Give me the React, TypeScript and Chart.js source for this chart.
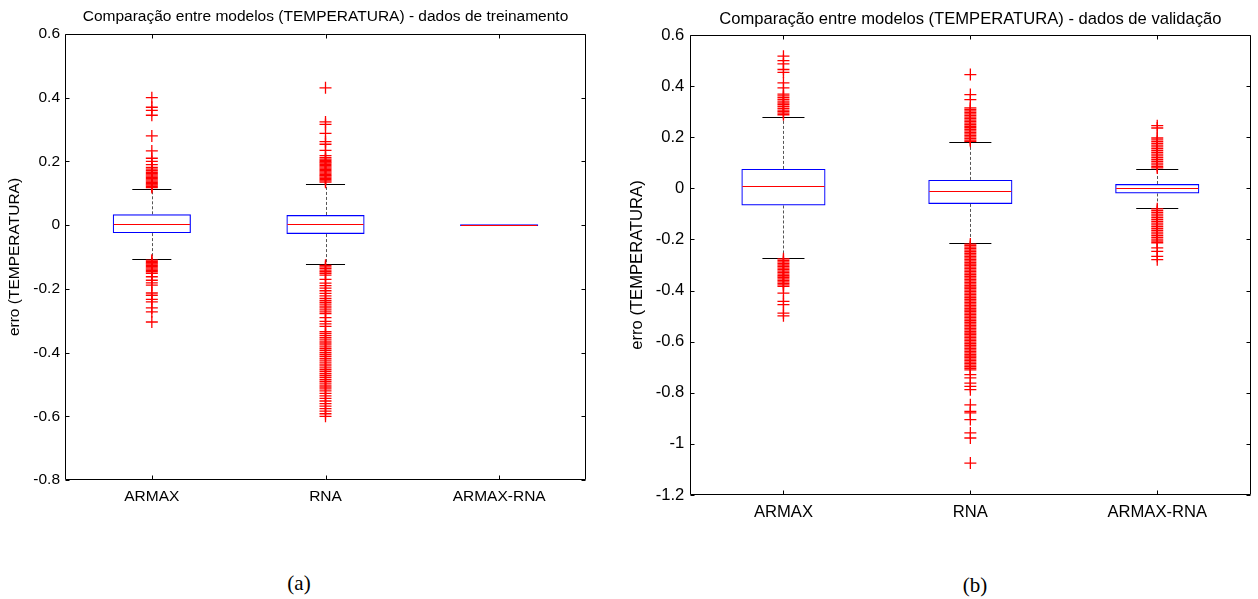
import React, { useEffect, useRef } from "react";
import { Chart, registerables } from "chart.js";

Chart.register(...registerables);

// ---------- data ----------
const categories = ["ARMAX", "RNA", "ARMAX-RNA"];

// (a) training data
const trainTitle = "Comparação entre modelos (TEMPERATURA) - dados de treinamento";
const trainQ1 = [-0.025, -0.028, -0.003];
const trainMedian = [0.004, 0.004, 0.0];
const trainQ3 = [0.034, 0.032, 0.003];
const trainWhiskerLow = [-0.107, -0.122, -0.003];
const trainWhiskerHigh = [0.115, 0.13, 0.003];
const trainOutArmax = [
  0.4, 0.37, 0.36, 0.345, 0.28, 0.233, 0.21, 0.2, 0.19, 0.181, 0.176, 0.171, 0.166, 0.162, 0.158,
  0.154, 0.15, 0.146, 0.142, 0.138, 0.134, 0.13, 0.126, 0.122, 0.118,
  -0.11, -0.114, -0.118, -0.122, -0.126, -0.13, -0.134, -0.138, -0.142, -0.146, -0.151, -0.162,
  -0.173, -0.181, -0.188, -0.213, -0.22, -0.233, -0.241, -0.26, -0.272, -0.304,
];
const trainOutRna = [
  0.431, 0.324, 0.316, 0.288, 0.262, 0.254, 0.235, 0.218, 0.212, 0.207, 0.203, 0.199, 0.195, 0.191,
  0.187, 0.183, 0.179, 0.175, 0.171, 0.167, 0.163, 0.159, 0.155, 0.151, 0.147, 0.143, 0.139, 0.135,
  -0.126, -0.131, -0.136, -0.141, -0.146, -0.151, -0.157, -0.17, -0.182, -0.19, -0.198, -0.206,
  -0.214, -0.222, -0.23, -0.236, -0.242, -0.248, -0.254, -0.26, -0.266, -0.272, -0.278, -0.29,
  -0.302, -0.31, -0.318, -0.334, -0.34, -0.346, -0.352, -0.358, -0.364, -0.37, -0.376, -0.382,
  -0.388, -0.394, -0.4, -0.406, -0.412, -0.418, -0.424, -0.43, -0.436, -0.442, -0.448, -0.454,
  -0.46, -0.466, -0.472, -0.478, -0.484, -0.49, -0.496, -0.502, -0.508, -0.514, -0.52, -0.528,
  -0.536, -0.544, -0.552, -0.56, -0.568, -0.576, -0.584, -0.592, -0.6,
];
const trainOutHybrid: number[] = [];
const trainYMin = -0.8;
const trainYMax = 0.6;

// (b) validation data
const validTitle = "Comparação entre modelos (TEMPERATURA) - dados de validação";
const validQ1 = [-0.067, -0.061, -0.02];
const validMedian = [0.008, -0.009, 0.003];
const validQ3 = [0.076, 0.033, 0.017];
const validWhiskerLow = [-0.271, -0.213, -0.077];
const validWhiskerHigh = [0.281, 0.18, 0.076];
const validOutArmax = [
  0.517, 0.5, 0.487, 0.465, 0.454, 0.413, 0.393, 0.369, 0.362, 0.355, 0.348, 0.341, 0.334, 0.327,
  0.32, 0.313, 0.306, 0.3, 0.294, 0.288,
  -0.276, -0.282, -0.288, -0.294, -0.3, -0.306, -0.312, -0.318, -0.324, -0.33, -0.336, -0.342,
  -0.348, -0.354, -0.36, -0.366, -0.372, -0.378, -0.384, -0.41, -0.442, -0.455, -0.488, -0.499,
];
const validOutRna = [
  0.445, 0.367, 0.347, 0.315, 0.309, 0.303, 0.297, 0.291, 0.285, 0.279, 0.273, 0.267, 0.261, 0.255,
  0.249, 0.243, 0.237, 0.231, 0.225, 0.219, 0.213, 0.207, 0.201, 0.195, 0.189, 0.184,
  -0.218, -0.224, -0.23, -0.236, -0.242, -0.248, -0.254, -0.26, -0.266, -0.272, -0.278, -0.284,
  -0.29, -0.296, -0.302, -0.308, -0.314, -0.32, -0.326, -0.332, -0.338, -0.344, -0.35, -0.356,
  -0.362, -0.368, -0.374, -0.38, -0.386, -0.392, -0.398, -0.404, -0.41, -0.416, -0.422, -0.428,
  -0.434, -0.44, -0.446, -0.452, -0.458, -0.464, -0.47, -0.476, -0.482, -0.488, -0.494, -0.5,
  -0.506, -0.512, -0.518, -0.524, -0.53, -0.536, -0.542, -0.548, -0.554, -0.56, -0.566, -0.572,
  -0.578, -0.584, -0.59, -0.596, -0.602, -0.608, -0.614, -0.62, -0.626, -0.632, -0.638, -0.644,
  -0.65, -0.656, -0.662, -0.668, -0.674, -0.68, -0.686, -0.692, -0.698, -0.704, -0.71,
  -0.729, -0.742, -0.762, -0.775, -0.788, -0.847, -0.873, -0.879, -0.905, -0.957, -0.977, -1.075,
];
const validOutHybrid = [
  0.245, 0.236, 0.197, 0.19, 0.183, 0.176, 0.169, 0.162, 0.155, 0.148, 0.141, 0.134, 0.127, 0.12,
  0.113, 0.106, 0.099, 0.092, 0.085, 0.08,
  -0.08, -0.087, -0.094, -0.101, -0.108, -0.115, -0.122, -0.129, -0.136, -0.143, -0.15, -0.157,
  -0.164, -0.171, -0.178, -0.185, -0.192, -0.199, -0.206, -0.213, -0.233, -0.247, -0.266, -0.279,
];
const validYMin = -1.2;
const validYMax = 0.6;

const yStep = 0.2;
const yAxisTitle = "erro (TEMPERATURA)";

// ---------- chart helpers ----------
type Stats = {
  q1: number[];
  median: number[];
  q3: number[];
  lo: number[];
  hi: number[];
  outliers: number[][];
};

const FONT = "'Liberation Sans', Arial, Helvetica, sans-serif";

function boxPlugin(stats: Stats) {
  const hline = (ctx: CanvasRenderingContext2D, x1: number, x2: number, y: number) => {
    const yy = Math.round(y) + 0.5;
    ctx.beginPath();
    ctx.moveTo(x1, yy);
    ctx.lineTo(x2, yy);
    ctx.stroke();
  };
  const vline = (ctx: CanvasRenderingContext2D, x: number, y1: number, y2: number) => {
    const xx = Math.round(x) + 0.5;
    ctx.beginPath();
    ctx.moveTo(xx, y1);
    ctx.lineTo(xx, y2);
    ctx.stroke();
  };
  return {
    id: "boxExtras",
    beforeDatasetsDraw(chart: any) {
      const { ctx, scales } = chart;
      const xs = scales.x;
      const ys = scales.y;
      const meta = chart.getDatasetMeta(0);
      ctx.save();
      ctx.lineWidth = 1;
      for (let i = 0; i < stats.q1.length; i++) {
        const bar = meta.data[i];
        const cx = xs.getPixelForValue(i);
        const half = bar.width / 2;
        const yq1 = ys.getPixelForValue(stats.q1[i]);
        const yq3 = ys.getPixelForValue(stats.q3[i]);
        const ylo = ys.getPixelForValue(stats.lo[i]);
        const yhi = ys.getPixelForValue(stats.hi[i]);
        ctx.strokeStyle = "#555";
        ctx.setLineDash([3, 2]);
        if (stats.hi[i] > stats.q3[i]) vline(ctx, cx, yq3, yhi);
        if (stats.lo[i] < stats.q1[i]) vline(ctx, cx, yq1, ylo);
        ctx.setLineDash([]);
        ctx.strokeStyle = "#000";
        if (stats.hi[i] > stats.q3[i]) hline(ctx, cx - half / 2, cx + half / 2, yhi);
        if (stats.lo[i] < stats.q1[i]) hline(ctx, cx - half / 2, cx + half / 2, ylo);
      }
      ctx.restore();
    },
    afterDatasetsDraw(chart: any) {
      const { ctx, scales, chartArea } = chart;
      const xs = scales.x;
      const ys = scales.y;
      const meta = chart.getDatasetMeta(0);
      ctx.save();
      ctx.lineWidth = 1;
      ctx.strokeStyle = "#ff0000";
      for (let i = 0; i < stats.median.length; i++) {
        const bar = meta.data[i];
        const cx = xs.getPixelForValue(i);
        const half = bar.width / 2;
        hline(ctx, cx - half + 1, cx + half - 1, ys.getPixelForValue(stats.median[i]));
      }
      // frame
      const l = Math.round(chartArea.left) + 0.5;
      const r = Math.round(chartArea.right) - 0.5;
      const t = Math.round(chartArea.top) + 0.5;
      const b = Math.round(chartArea.bottom) - 0.5;
      ctx.strokeStyle = "#000";
      ctx.beginPath();
      ctx.rect(l, t, r - l, b - t);
      ctx.stroke();
      // inward ticks
      const tl = 4;
      ys.ticks.forEach((tk: any) => {
        const py = Math.round(ys.getPixelForValue(tk.value)) + 0.5;
        ctx.beginPath();
        ctx.moveTo(l, py);
        ctx.lineTo(l + tl, py);
        ctx.moveTo(r, py);
        ctx.lineTo(r - tl, py);
        ctx.stroke();
      });
      for (let i = 0; i < stats.q1.length; i++) {
        const px = Math.round(xs.getPixelForValue(i)) + 0.5;
        ctx.beginPath();
        ctx.moveTo(px, b);
        ctx.lineTo(px, b - tl);
        ctx.moveTo(px, t);
        ctx.lineTo(px, t + tl);
        ctx.stroke();
      }
      ctx.restore();
    },
  };
}

type PanelProps = {
  title: string;
  stats: Stats;
  yMin: number;
  yMax: number;
  width: number;
  height: number;
  fontSize: number;
  yAxisWidth: number;
  xAxisHeight: number;
  padRight: number;
  titlePadTop: number;
  titlePadBottom: number;
  yTitlePad: number;
  xTickPad: number;
  yTickPad: number;
};

function BoxPanel(p: PanelProps) {
  const ref = useRef<HTMLCanvasElement | null>(null);
  useEffect(() => {
    if (!ref.current) return;
    const outData = categories.flatMap((c, i) => p.stats.outliers[i].map((v) => ({ x: c, y: v })));
    const chart = new Chart(ref.current, {
      type: "bar",
      data: {
        labels: categories,
        datasets: [
          {
            type: "bar",
            data: categories.map((_, i) => [p.stats.q1[i], p.stats.q3[i]]) as any,
            backgroundColor: "rgba(0,0,0,0)",
            borderColor: "#0000ff",
            borderWidth: 1.2,
            borderSkipped: false,
            barPercentage: 0.45,
            categoryPercentage: 1,
          } as any,
          {
            type: "line",
            data: outData as any,
            showLine: false,
            pointStyle: "cross",
            pointRadius: 6,
            pointBorderWidth: 1.3,
            borderColor: "#ff0000",
            backgroundColor: "#ff0000",
            pointBorderColor: "#ff0000",
          } as any,
        ],
      },
      options: {
        responsive: false,
        animation: false,
        events: [],
        layout: { padding: { left: 0, right: p.padRight, top: 0, bottom: 0 } },
        plugins: {
          legend: { display: false },
          tooltip: { enabled: false },
          title: {
            display: true,
            text: p.title,
            color: "#000",
            fullSize: false,
            font: { family: FONT, size: p.fontSize, weight: "normal", lineHeight: 1.2 },
            padding: { top: p.titlePadTop, bottom: p.titlePadBottom },
          },
        },
        scales: {
          x: {
            type: "category",
            offset: true,
            grid: { display: false, drawTicks: false },
            border: { display: false },
            ticks: {
              color: "#000",
              padding: p.xTickPad,
              maxRotation: 0,
              font: { family: FONT, size: p.fontSize },
            },
            afterFit: (s: any) => {
              s.height = p.xAxisHeight;
            },
          },
          y: {
            type: "linear",
            min: p.yMin,
            max: p.yMax,
            grid: { display: false, drawTicks: false },
            border: { display: false },
            ticks: {
              stepSize: yStep,
              color: "#000",
              padding: p.yTickPad,
              font: { family: FONT, size: p.fontSize },
              callback: (v: any) => String(Math.round(Number(v) * 10) / 10),
            },
            title: {
              display: true,
              text: yAxisTitle,
              color: "#000",
              font: { family: FONT, size: p.fontSize, lineHeight: 1.2 },
              padding: { top: p.yTitlePad, bottom: 0 },
            },
            afterFit: (s: any) => {
              s.width = p.yAxisWidth;
            },
          },
        },
      } as any,
      plugins: [boxPlugin(p.stats)],
    });
    return () => chart.destroy();
  }, []);
  return (
    <canvas
      ref={ref}
      width={p.width}
      height={p.height}
      style={{ width: p.width, height: p.height, display: "block" }}
    />
  );
}

const trainStats: Stats = {
  q1: trainQ1,
  median: trainMedian,
  q3: trainQ3,
  lo: trainWhiskerLow,
  hi: trainWhiskerHigh,
  outliers: [trainOutArmax, trainOutRna, trainOutHybrid],
};

const validStats: Stats = {
  q1: validQ1,
  median: validMedian,
  q3: validQ3,
  lo: validWhiskerLow,
  hi: validWhiskerHigh,
  outliers: [validOutArmax, validOutRna, validOutHybrid],
};

const captionStyle: React.CSSProperties = {
  position: "absolute",
  fontFamily: "'Liberation Serif', 'Times New Roman', serif",
  fontSize: 21,
  lineHeight: "24px",
  color: "#000",
  transform: "translateX(-50%)",
  whiteSpace: "nowrap",
};

export default function App() {
  return (
    <div
      style={{
        position: "absolute",
        left: 0,
        top: 0,
        width: 1258,
        height: 599,
        background: "#fff",
        overflow: "hidden",
      }}
    >
      <div style={{ position: "absolute", left: 0, top: 0 }}>
        <BoxPanel
          title={trainTitle}
          stats={trainStats}
          yMin={trainYMin}
          yMax={trainYMax}
          width={629}
          height={530}
          fontSize={15.5}
          yAxisWidth={65}
          xAxisHeight={50}
          padRight={43}
          titlePadTop={7.7}
          titlePadBottom={7.7}
          yTitlePad={5.7}
          xTickPad={7}
          yTickPad={5}
        />
      </div>
      <div style={{ position: "absolute", left: 618, top: 0 }}>
        <BoxPanel
          title={validTitle}
          stats={validStats}
          yMin={validYMin}
          yMax={validYMax}
          width={640}
          height={550}
          fontSize={16.6}
          yAxisWidth={72}
          xAxisHeight={55}
          padRight={2}
          titlePadTop={9}
          titlePadBottom={6.08}
          yTitlePad={9}
          xTickPad={7.6}
          yTickPad={5.7}
        />
      </div>
      <div style={{ ...captionStyle, left: 299, top: 571 }}>(a)</div>
      <div style={{ ...captionStyle, left: 975, top: 573 }}>(b)</div>
    </div>
  );
}
